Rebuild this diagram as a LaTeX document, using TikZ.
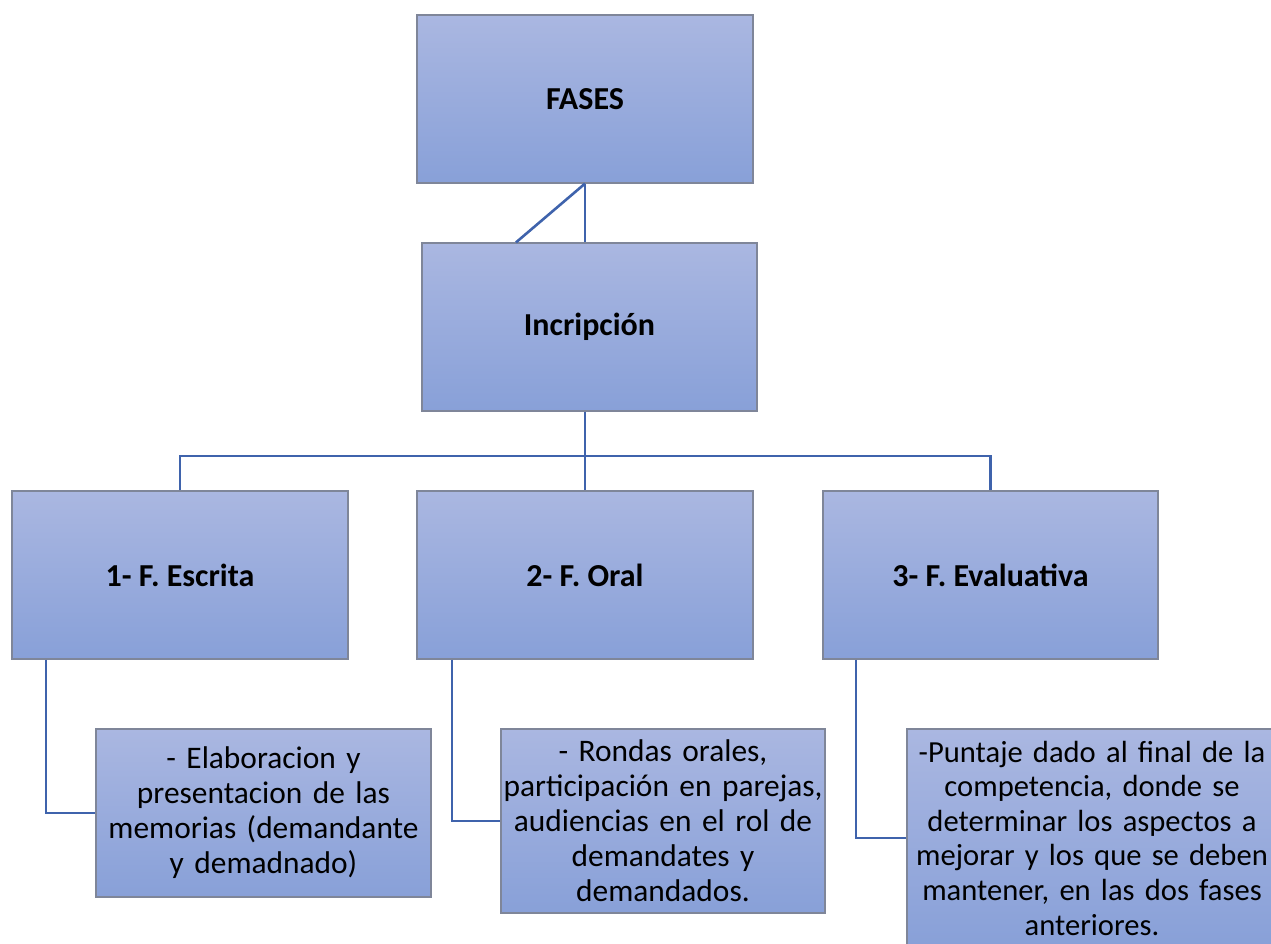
\documentclass[tikz,border=0pt]{standalone}
\usepackage{fontspec}
\setmainfont{Carlito}
\usepackage{tikz}
\usetikzlibrary{positioning,calc}
\definecolor{boxtop}{HTML}{AAB7E1}
\definecolor{boxbot}{HTML}{88A0D8}
\definecolor{boxline}{HTML}{7F8699}
\definecolor{linkblue}{HTML}{3F63AC}
\tikzset{phase node/.style={rectangle,draw=boxline,line width=1.2pt,top color=boxtop,bottom color=boxbot,
            inner sep=0pt,align=center,font=\fontsize{32}{36}\selectfont\bfseries},
         note node/.style={phase node,font=\fontsize{31.4}{35}\selectfont},
         link/.style={draw=linkblue,line width=2.6pt}
}
\begin{document}
\begin{tikzpicture}[x=1pt,y=-1pt]
\useasboundingbox (0,0) rectangle (1271,943);
\clip (0,0) rectangle (1271,943);
% top of the tree
\node [phase node,minimum width=336,minimum height=168] (0) at (585,99) {FASES};
\node [phase node,minimum width=335,minimum height=168] (1) at (589.5,327) {Incripción};
% the three phases
\node [phase node,minimum width=336,minimum height=168] (2) at (180,575) {1- F. Escrita};
\node [phase node,minimum width=336,minimum height=168] (3) at (585,575) {2- F. Oral};
\node [phase node,minimum width=335,minimum height=168] (4) at (990.5,575) {3- F. Evaluativa};
% what each phase holds
\node [note node,minimum width=335,minimum height=168,text width=325] (5) at (263.5,813)
    {- Elaboracion y\\presentacion de las\\memorias (demandante\\y demadnado)};
\node [note node,minimum width=324,minimum height=184,text width=322] (6) at (663,821)
    {- Rondas orales,\\participación en parejas,\\audiencias en el rol de\\demandates y\\demandados.};
\node [note node,minimum width=370,minimum height=218,text width=360,
       font=\fontsize{30.6}{34.6}\selectfont] (7) at (1092,838)
    {-Puntaje dado al final de la\\competencia, donde se\\determinar los aspectos a\\mejorar y los que se deben\\mantener, en las dos fases\\anteriores.};
\coordinate (bus) at (585,456);
\path [link] (0.south) -- (0.south |- 1.north);
\path [link] (0.south) -- ([xshift=-73.5pt]1.north);
\path [link] (0.south |- 1.south) -- (0.south |- 3.north);
\path [link] (2.north) |- (bus) -| (4.north);
\path [link] ([xshift=-134pt]2.south) |- (5.west);
\path [link] ([xshift=-133pt]3.south) |- (6.west);
\path [link] ([xshift=-134.5pt]4.south) |- (7.west);
\end{tikzpicture}
\end{document}
